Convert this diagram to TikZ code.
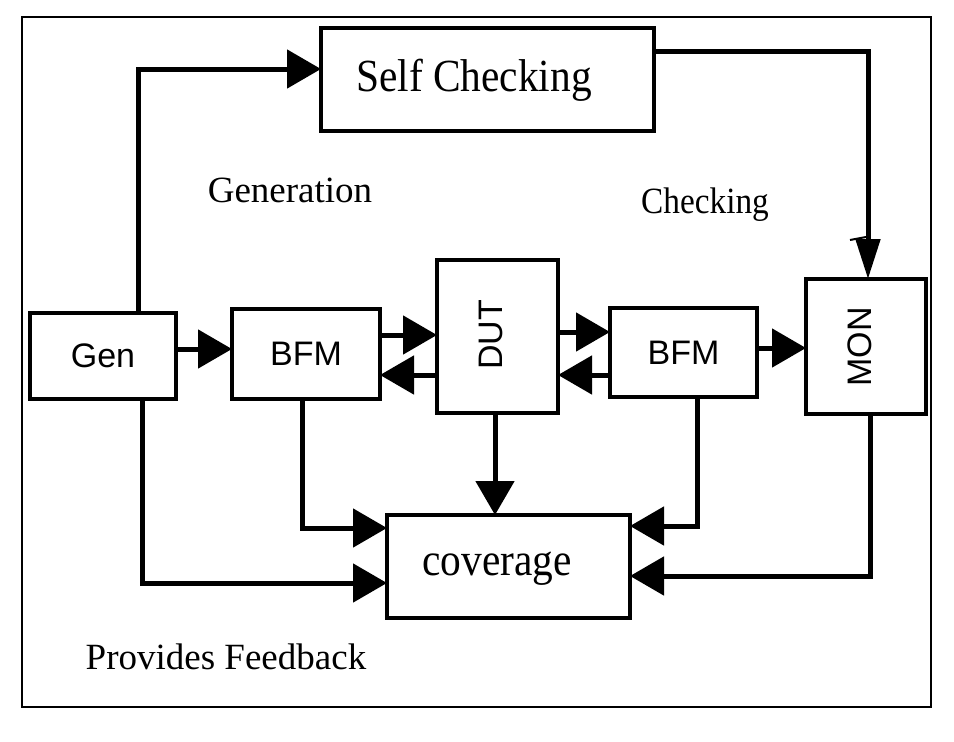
\documentclass[tikz,border=0pt]{standalone}
\usepackage{fontspec}
\usepackage{graphicx}
\usetikzlibrary{arrows.meta}
\newfontfamily\serf{Liberation Serif}
\newfontfamily\sanf{Liberation Sans}
\begin{document}
\begin{tikzpicture}[x=1pt,y=-1pt,
  box/.style={draw, line width=4pt, rectangle, inner sep=0pt, outer sep=0pt},
  sanslab/.style={font=\sanf\fontsize{34}{36}\selectfont},
  seriflab/.style={font=\serf\fontsize{37}{40}\selectfont, inner sep=0pt},
  bigserif/.style={font=\serf\fontsize{46}{50}\selectfont, inner sep=0pt},
  conn/.style={line width=5pt, -{Triangle[length=34pt,width=38pt]}}]
\useasboundingbox (0,0) rectangle (954,742);
% outer frame
\draw[line width=2.5pt] (22,17) rectangle (931,707);
% nodes
\node[box, minimum width=333pt, minimum height=103pt] (self) at (487.5,79.5) {};
\node[bigserif, anchor=base] (selftext) at (474,91) {\scalebox{0.9}[1]{Self Checking}};
\node[box, sanslab, minimum width=146pt, minimum height=86pt] (gen) at (103,356) {Gen};
\node[box, sanslab, minimum width=148pt, minimum height=90pt] (bfma) at (306,354) {BFM};
\node[box, minimum width=121pt, minimum height=153pt] (dut) at (497.5,336.5) {};
\node[sanslab, rotate=90] (duttext) at (491,335) {DUT};
\node[box, sanslab, minimum width=147pt, minimum height=89pt] (bfmb) at (683.5,352.5) {BFM};
\node[box, minimum width=120pt, minimum height=135pt] (mon) at (866,346.5) {};
\node[sanslab, rotate=90] (montext) at (860,347) {MON};
\node[box, minimum width=243pt, minimum height=103pt] (cov) at (508.5,566.5) {};
\node[bigserif, anchor=base] (covtext) at (497,575) {\scalebox{0.9}[1]{coverage}};
% labels
\node[seriflab, anchor=base] (genlab) at (290,202) {Generation};
\node[seriflab, anchor=base] (chklab) at (705,213) {\scalebox{0.9}[1]{Checking}};
\node[seriflab, anchor=base] (fblab) at (226,669) {Provides Feedback};
% helper coordinates
\coordinate (xg1) at (138,0);
\coordinate (xg2) at (142,0);
\coordinate (xb1) at (302,0);
\coordinate (xd) at (495,0);
\coordinate (xb2) at (697,0);
\coordinate (xm) at (870,0);
\coordinate (xs) at (868,0);
\coordinate (y69) at (0,69);
\coordinate (y51) at (0,51);
% top loop
\draw[conn] (xg1 |- gen.north) |- (self.west |- y69);
\draw[line width=5pt, -{Triangle[length=40pt,width=24pt]}] (self.east |- y51) -| (xs |- mon.north);
\draw[line width=2pt] (850,240) -- (866,237);
% middle row
\draw[conn] (gen.east |- 0,349) -- (bfma.west |- 0,349);
\draw[conn] (bfma.east |- 0,335) -- (dut.west |- 0,335);
\draw[conn] (dut.west |- 0,375) -- (bfma.east |- 0,375);
\draw[conn] (dut.east |- 0,332) -- (bfmb.west |- 0,332);
\draw[conn] (bfmb.west |- 0,375) -- (dut.east |- 0,375);
\draw[conn] (bfmb.east |- 0,348) -- (mon.west |- 0,348);
% to coverage
\draw[conn] (xg2 |- gen.south) |- (cov.west |- 0,583);
\draw[conn] (xb1 |- bfma.south) |- (cov.west |- 0,528);
\draw[conn] (xd |- dut.south) -- (xd |- cov.north);
\draw[conn] (xb2 |- bfmb.south) |- (cov.east |- 0,526);
\draw[conn] (xm |- mon.south) |- (cov.east |- 0,576);
\end{tikzpicture}
\end{document}
